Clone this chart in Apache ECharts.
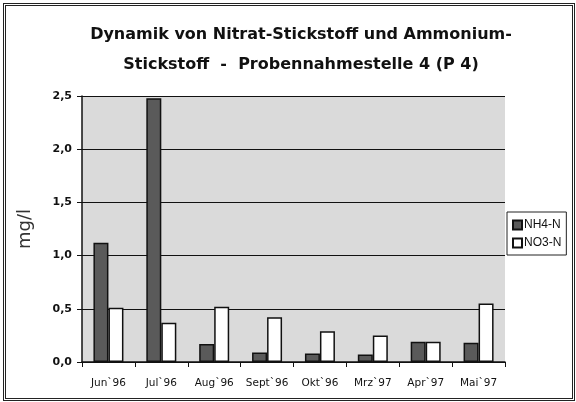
<!DOCTYPE html>
<html>
<head>
<meta charset="utf-8">
<script src="https://cdn.jsdelivr.net/npm/echarts@6/dist/echarts.min.js"></script>
<style>
html,body{margin:0;padding:0;background:#fff;}
#frame{position:absolute;left:3px;top:3px;width:566px;height:392px;border:3px double #222;}
#main{position:absolute;left:0;top:0;width:576px;height:402px;}
</style>
</head>
<body>
<div id="frame"></div>
<div id="main"></div>
<script>
var months = ['Jun`96', 'Jul`96', 'Aug`96', 'Sept`96', 'Okt`96', 'Mrz`97', 'Apr`97', 'Mai`97'];
var nh4 = [1.12, 2.48, 0.17, 0.09, 0.08, 0.07, 0.19, 0.18];
var no3 = [0.51, 0.37, 0.52, 0.42, 0.29, 0.25, 0.19, 0.55];

var myChart = echarts.init(document.getElementById('main'));

var option = {
    animation: false,
    title: {
        text: 'Dynamik von Nitrat-Stickstoff und Ammonium-\nStickstoff  -  Probennahmestelle 4 (P 4)',
        left: 296,
        top: 15,
        textAlign: 'center',
        textStyle: {
            fontFamily: 'DejaVu Sans',
            fontWeight: 'bold',
            fontSize: 16,
            lineHeight: 30,
            color: '#111'
        }
    },
    legend: {
        data: ['NH4-N', 'NO3-N'],
        orient: 'vertical',
        left: 507,
        top: 212,
        padding: [7, 5, 6, 5],
        itemGap: 6,
        itemWidth: 9,
        itemHeight: 9,
        icon: 'rect',
        borderColor: '#222',
        borderWidth: 1,
        textStyle: { fontFamily: 'Liberation Sans', fontSize: 12, color: '#111', padding: [0, 0, 0, -3] }
    },
    grid: {
        left: 82,
        right: 71,
        top: 96,
        bottom: 40,
        show: true,
        backgroundColor: '#dadada',
        borderWidth: 0
    },
    xAxis: {
        type: 'category',
        data: months,
        axisLine: { lineStyle: { color: '#111', width: 1.5 } },
        axisTick: { show: true, length: 5, lineStyle: { color: '#111' } },
        axisLabel: { interval: 0, fontFamily: 'DejaVu Sans', fontSize: 10.5, color: '#111', margin: 16 }
    },
    yAxis: {
        type: 'value',
        min: 0,
        max: 2.5,
        interval: 0.5,
        name: 'mg/l',
        nameLocation: 'middle',
        nameGap: 48,
        nameTextStyle: { fontFamily: 'DejaVu Sans', fontSize: 18, color: '#333' },
        axisLine: { show: true, lineStyle: { color: '#111', width: 1.5 } },
        axisTick: { show: true, length: 5, lineStyle: { color: '#111' } },
        splitLine: { lineStyle: { color: '#111', width: 1 } },
        axisLabel: {
            fontFamily: 'DejaVu Sans',
            fontSize: 11,
            fontWeight: 'bold',
            color: '#111',
            margin: 10,
            formatter: function (v) { return v.toFixed(1).replace('.', ','); }
        }
    },
    series: [{
        name: 'NH4-N',
        type: 'bar',
        data: nh4,
        barWidth: 15,
        barGap: '0%',
        itemStyle: { color: '#5a5a5a', borderColor: '#111', borderWidth: 1.5 }
    }, {
        name: 'NO3-N',
        type: 'bar',
        data: no3,
        barWidth: 15,
        itemStyle: { color: '#fff', borderColor: '#111', borderWidth: 1.5 }
    }]
};

myChart.setOption(option);
</script>
</body>
</html>
